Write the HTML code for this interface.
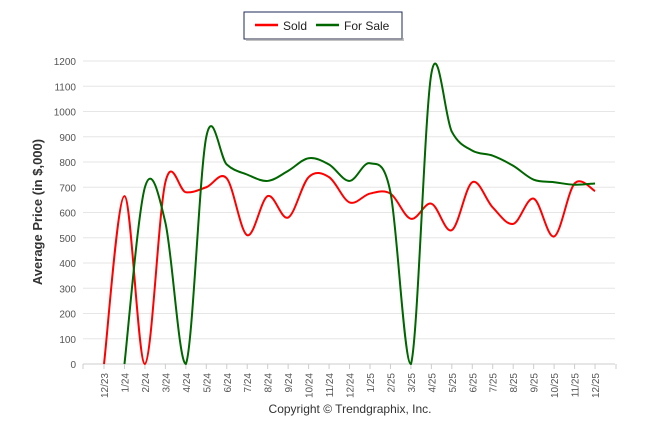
<!DOCTYPE html>
<html><head><meta charset="utf-8"><style>
body{margin:0;background:#fff;font-family:"Liberation Sans",sans-serif}
svg{display:block}
</style></head><body>
<svg id="c" width="646" height="434">
<rect x="244" y="12" width="158" height="27" fill="#fff" stroke="#1c2a5a" stroke-width="1"/>
<rect x="246" y="38" width="158" height="3" fill="#999" opacity="0.6"/>
<g><line x1="255" y1="25" x2="278" y2="25" stroke="#f00" stroke-width="2.5"/><text x="283" y="30" font-size="12" fill="#222">Sold</text></g>
<g><line x1="316" y1="25" x2="339" y2="25" stroke="#060" stroke-width="2.5"/><text x="344" y="30" font-size="12" fill="#222">For Sale</text></g>
<text transform="translate(42,212) rotate(-90)" text-anchor="middle" font-size="13" font-weight="bold" fill="#333">Average Price (in $,000)</text>
<text x="350" y="413" text-anchor="middle" font-size="12" fill="#333">Copyright © Trendgraphix, Inc.</text>
<g id="grid"></g><g id="series"></g>
</svg>
<script>
const categories=["12/23","1/24","2/24","3/24","4/24","5/24","6/24","7/24","8/24","9/24","10/24","11/24","12/24","1/25","2/25","3/25","4/25","5/25","6/25","7/25","8/25","9/25","10/25","11/25","12/25"];
const sold=[0,665,0,720,680,700,735,510,665,580,740,740,640,675,675,575,635,530,720,620,555,655,505,715,685];
const forSale=[null,0,700,560,0,900,790,750,725,765,815,790,725,795,680,0,1150,920,845,825,785,730,720,710,715];
const yTicks=[0,100,200,300,400,500,600,700,800,900,1000,1100,1200];
const NS="http://www.w3.org/2000/svg";
const x0=104,dx=20.46,yb=364,yt=61;
const X=i=>x0+i*dx, Y=v=>yb-(v/1200)*(yb-yt);
const g=document.getElementById('grid'),s=document.getElementById('series');
function mk(t,a,p){const e=document.createElementNS(NS,t);for(const k in a)e.setAttribute(k,a[k]);p.appendChild(e);return e;}
yTicks.forEach(v=>{
 const l=mk('line',{x1:83,x2:615,y1:Y(v),y2:Y(v),stroke:v?'#e6e6e6':'#ccc','stroke-width':1},g);
 
 
 const t=mk('text',{x:76,y:Y(v)+4,'text-anchor':'end','font-size':10,fill:'#555'},g);t.textContent=v;
 
 
});
mk('line',{x1:83,x2:83,y1:364,y2:369,stroke:'#ccc'},g);
mk('line',{x1:616,x2:616,y1:364,y2:369,stroke:'#ccc'},g);
categories.forEach((c,i)=>{
 mk('line',{x1:X(i),x2:X(i),y1:364,y2:369,stroke:'#ccc'},g);
 const t=mk('text',{transform:`translate(${X(i)+4},373) rotate(-90)`,'text-anchor':'end','font-size':10,fill:'#555'},g);t.textContent=c;
 
 
});
function path(vals){
 const pts=[];vals.forEach((v,i)=>{if(v!==null)pts.push([X(i),Y(v)]);});
 let d=`M${pts[0][0]},${pts[0][1]}`;
 for(let i=0;i<pts.length-1;i++){
  const p0=pts[Math.max(0,i-1)],p1=pts[i],p2=pts[i+1],p3=pts[Math.min(pts.length-1,i+2)];
  const c1=[p1[0]+(p2[0]-p0[0])/6,p1[1]+(p2[1]-p0[1])/6],c2=[p2[0]-(p3[0]-p1[0])/6,p2[1]-(p3[1]-p1[1])/6];
  d+=` C${c1[0]},${Math.min(c1[1],yb)} ${c2[0]},${Math.min(c2[1],yb)} ${p2[0]},${p2[1]}`;
 }
 return d;
}
const ps=mk('path',{d:path(sold),fill:'none',stroke:'#f00','stroke-width':2},s);


const pf=mk('path',{d:path(forSale),fill:'none',stroke:'#060','stroke-width':2},s);


</script>
</body></html>
